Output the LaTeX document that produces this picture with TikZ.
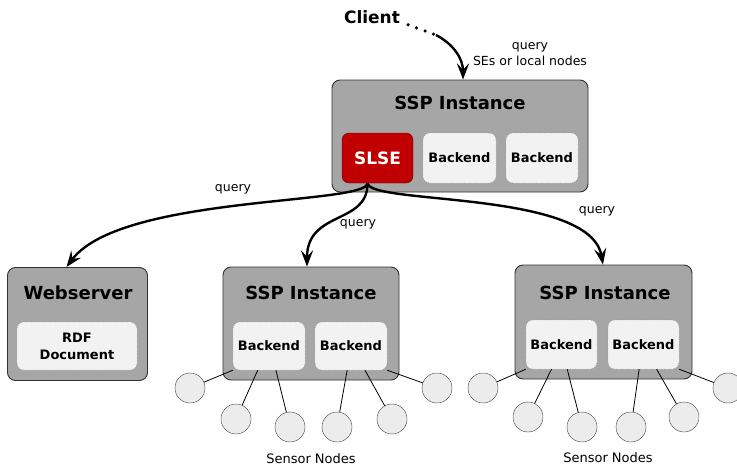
\documentclass[tikz,border=0pt]{standalone}
\usepackage{fontspec}
\setmainfont{DejaVu Sans}
\usepackage{tikz}
\usetikzlibrary{arrows.meta}
\definecolor{boxgray}{RGB}{166,166,166}
\definecolor{boxline}{RGB}{50,50,50}
\definecolor{slsered}{RGB}{192,0,0}
\definecolor{backfill}{RGB}{242,242,242}
\definecolor{sensfill}{RGB}{236,236,236}

\begin{document}
\begin{tikzpicture}[x=1pt, y=-1pt,
    host/.style={rectangle, rounded corners=8pt, draw=boxline, fill=boxgray, line width=0.9pt},
    title/.style={font=\fontsize{18}{20}\selectfont\bfseries, inner sep=0pt},
    backend/.style={rectangle, rounded corners=7pt, draw=black!70, dotted, fill=backfill,
                    minimum width=72pt, minimum height=48pt, inner sep=0pt, align=center,
                    font=\fontsize{13}{17}\selectfont\bfseries},
    slse/.style={rectangle, rounded corners=7pt, draw=slsered!50!black, fill=slsered, text=white,
                 minimum width=71pt, minimum height=50pt, inner sep=0pt,
                 font=\fontsize{17}{20}\selectfont\bfseries},
    sensor/.style={circle, draw=black!75, fill=sensfill, minimum size=30pt, inner sep=0pt},
    lbl/.style={font=\fontsize{12.5}{16}\selectfont, inner sep=0pt, align=center},
    flow/.style={-{Stealth[length=16pt, width=12pt, inset=6pt]}, line width=2.4pt},
    wire/.style={line width=0.8pt}]

    \useasboundingbox (0,0) rectangle (737,466);

    % Client
    \node[font=\fontsize{17}{20}\selectfont\bfseries, inner sep=0pt] (client) at (372,17) {Client};
    \coordinate (bend) at (436,35);
    \draw[line width=3.5pt, line cap=round, dash pattern=on 0pt off 9pt]
        (client.south east) ++(8,1) -- (bend);
    \node[lbl] (qtop) at (530,54) {query\\SEs or local nodes};

    % Top SSP instance
    \node[host, minimum width=256pt, minimum height=112pt] (top) at (460,136) {};
    \node[title] (toptitle) at (460,103) {SSP Instance};
    \node[slse] (slse) at (377.5,158) {SLSE};
    \node[backend, minimum width=73pt, minimum height=50pt] (tb1) at (459.5,158) {Backend};
    \node[backend, minimum height=50pt] (tb2) at (542,158) {Backend};

    % Webserver
    \node[host, minimum width=140pt, minimum height=113pt] (web) at (77.5,324) {};
    \node[title] (webtitle) at (78,293) {Webserver};
    \node[backend, minimum width=120pt] (rdf) at (77,346) {RDF\\Document};

    % Middle SSP instance
    \node[host, minimum width=176pt, minimum height=113pt] (mid) at (311,323.5) {};
    \node[title] (midtitle) at (311,293) {SSP Instance};
    \node[backend] (b1) at (269,346) {Backend};
    \node[backend] (b2) at (351,346) {Backend};

    % Right SSP instance
    \node[host, minimum width=177pt, minimum height=114pt] (rgt) at (603.5,322) {};
    \node[title] (rgttitle) at (605,293) {SSP Instance};
    \node[backend, minimum width=71pt, minimum height=49pt] (b3) at (561.5,344.5) {Backend};
    \node[backend, minimum width=71pt, minimum height=49pt] (b4) at (643.5,344.5) {Backend};

    % Sensors
    \foreach \n/\x/\y in {m1/190/388, m2/236/419, m3/290/427, m4/337/427, m5/392/419, m6/437/388,
                          r1/483/388, r2/528/417, r3/582/427, r4/631/427, r5/684/417, r6/728/388}
        \node[sensor] (\n) at (\x,\y) {};
    \foreach \s/\t in {m1/b1.south west, m2/b1.245, m3/b1.286, m4/b2.261, m5/b2.300, m6/b2.south east,
                       r1/b3.south west, r2/b3.248, r3/b3.283, r4/b4.260, r5/b4.298, r6/b4.south east}
        \draw[wire] (\s) -- (\t);
    \node[lbl, font=\fontsize{13}{16}\selectfont] (sn1) at (311,459) {Sensor Nodes};
    \node[lbl, font=\fontsize{13}{16}\selectfont] (sn2) at (608,458) {Sensor Nodes};

    % Queries
    \draw[flow] (bend) .. controls (455,45) and (463,60) .. ([xshift=3pt]top.north);
    \draw[flow] ([xshift=-10pt]slse.south) .. controls (367,205) and (120,195) .. ([xshift=-11pt]web.north);
    \draw[flow] ([xshift=-10pt]slse.south) .. controls (368,225) and (307,210) .. ([xshift=-4pt]mid.north);
    \draw[flow] ([xshift=-10pt]slse.south) .. controls (370,205) and (590,190) .. ([xshift=-0.5pt]rgt.north);
    \node[lbl] (q1) at (233,189) {query};
    \node[lbl] (q2) at (358,224) {query};
    \node[lbl] (q3) at (597,211) {query};
\end{tikzpicture}
\end{document}
